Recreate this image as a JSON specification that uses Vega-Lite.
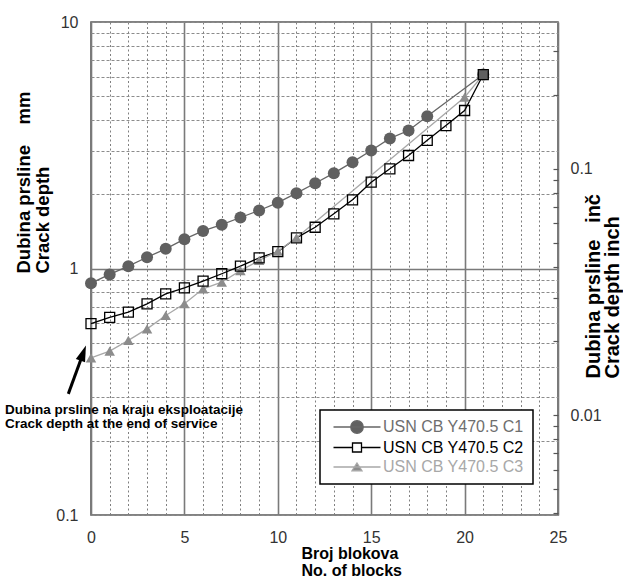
{
  "$schema": "https://vega.github.io/schema/vega-lite/v6.json",
  "width": 467,
  "height": 493,
  "autosize": {"type": "none"},
  "padding": {"left": 91, "top": 22, "right": 65, "bottom": 62},
  "background": "white",
  "config": {
    "font": "Liberation Sans",
    "view": {"stroke": "#5a5a5a", "strokeWidth": 1.6},
    "axis": {"labelFont": "Liberation Sans", "titleFont": "Liberation Sans"}
  },
  "datasets": {
    "series": [
      {"series": "USN CB Y470.5 C1", "x": 0, "mm": 0.872},
      {"series": "USN CB Y470.5 C1", "x": 1, "mm": 0.946},
      {"series": "USN CB Y470.5 C1", "x": 2, "mm": 1.022},
      {"series": "USN CB Y470.5 C1", "x": 3, "mm": 1.111},
      {"series": "USN CB Y470.5 C1", "x": 4, "mm": 1.202},
      {"series": "USN CB Y470.5 C1", "x": 5, "mm": 1.315},
      {"series": "USN CB Y470.5 C1", "x": 6, "mm": 1.42},
      {"series": "USN CB Y470.5 C1", "x": 7, "mm": 1.506},
      {"series": "USN CB Y470.5 C1", "x": 8, "mm": 1.61},
      {"series": "USN CB Y470.5 C1", "x": 9, "mm": 1.719},
      {"series": "USN CB Y470.5 C1", "x": 10, "mm": 1.85},
      {"series": "USN CB Y470.5 C1", "x": 11, "mm": 2.021},
      {"series": "USN CB Y470.5 C1", "x": 12, "mm": 2.218},
      {"series": "USN CB Y470.5 C1", "x": 13, "mm": 2.436},
      {"series": "USN CB Y470.5 C1", "x": 14, "mm": 2.7},
      {"series": "USN CB Y470.5 C1", "x": 15, "mm": 3.01},
      {"series": "USN CB Y470.5 C1", "x": 16, "mm": 3.37},
      {"series": "USN CB Y470.5 C1", "x": 17, "mm": 3.63},
      {"series": "USN CB Y470.5 C1", "x": 18, "mm": 4.15},
      {"series": "USN CB Y470.5 C1", "x": 21, "mm": 6.12},
      {"series": "USN CB Y470.5 C2", "x": 0, "mm": 0.597},
      {"series": "USN CB Y470.5 C2", "x": 1, "mm": 0.634},
      {"series": "USN CB Y470.5 C2", "x": 2, "mm": 0.665},
      {"series": "USN CB Y470.5 C2", "x": 3, "mm": 0.719},
      {"series": "USN CB Y470.5 C2", "x": 4, "mm": 0.789},
      {"series": "USN CB Y470.5 C2", "x": 5, "mm": 0.834},
      {"series": "USN CB Y470.5 C2", "x": 6, "mm": 0.888},
      {"series": "USN CB Y470.5 C2", "x": 7, "mm": 0.952},
      {"series": "USN CB Y470.5 C2", "x": 8, "mm": 1.022},
      {"series": "USN CB Y470.5 C2", "x": 9, "mm": 1.105},
      {"series": "USN CB Y470.5 C2", "x": 10, "mm": 1.17},
      {"series": "USN CB Y470.5 C2", "x": 11, "mm": 1.332},
      {"series": "USN CB Y470.5 C2", "x": 12, "mm": 1.47},
      {"series": "USN CB Y470.5 C2", "x": 13, "mm": 1.667},
      {"series": "USN CB Y470.5 C2", "x": 14, "mm": 1.9},
      {"series": "USN CB Y470.5 C2", "x": 15, "mm": 2.239},
      {"series": "USN CB Y470.5 C2", "x": 16, "mm": 2.538},
      {"series": "USN CB Y470.5 C2", "x": 17, "mm": 2.873},
      {"series": "USN CB Y470.5 C2", "x": 18, "mm": 3.31},
      {"series": "USN CB Y470.5 C2", "x": 19, "mm": 3.8},
      {"series": "USN CB Y470.5 C2", "x": 20, "mm": 4.375},
      {"series": "USN CB Y470.5 C2", "x": 21, "mm": 6.12},
      {"series": "USN CB Y470.5 C3", "x": 0, "mm": 0.434},
      {"series": "USN CB Y470.5 C3", "x": 1, "mm": 0.462},
      {"series": "USN CB Y470.5 C3", "x": 2, "mm": 0.511},
      {"series": "USN CB Y470.5 C3", "x": 3, "mm": 0.569},
      {"series": "USN CB Y470.5 C3", "x": 4, "mm": 0.645},
      {"series": "USN CB Y470.5 C3", "x": 5, "mm": 0.719},
      {"series": "USN CB Y470.5 C3", "x": 6, "mm": 0.827},
      {"series": "USN CB Y470.5 C3", "x": 7, "mm": 0.88},
      {"series": "USN CB Y470.5 C3", "x": 8, "mm": 0.98},
      {"series": "USN CB Y470.5 C3", "x": 9, "mm": 1.078},
      {"series": "USN CB Y470.5 C3", "x": 10, "mm": 1.175},
      {"series": "USN CB Y470.5 C3", "x": 11, "mm": 1.332},
      {"series": "USN CB Y470.5 C3", "x": 20, "mm": 4.95},
      {"series": "USN CB Y470.5 C3", "x": 21, "mm": 6.12}
    ],
    "note": [
      {"x": -4.6, "mm": 0.258, "label": "Dubina prsline na kraju eksploatacije\nCrack depth at the end of service"}
    ],
    "arrow": [
      {"x": -1.215, "mm": 0.31, "x2": -0.45, "mm2": 0.447}
    ]
  },
  "layer": [
    {
      "layer": [
        {
          "data": {"name": "series"},
          "mark": {"type": "line", "strokeWidth": 1.3},
          "encoding": {
            "x": {
              "field": "x", "type": "quantitative",
              "scale": {"domain": [0, 25], "nice": false, "zero": false},
              "axis": {
                "values": [0,1,2,3,4,5,6,7,8,9,10,11,12,13,14,15,16,17,18,19,20,21,22,23,24,25],
                "tickCount": 100,
                "labelExpr": "datum.value % 5 == 0 ? '' + datum.value : ''",
                "grid": true, "ticks": false, "domain": false,
                "gridDash": {"condition": {"test": "datum.value % 5 == 0", "value": []}, "value": [2, 2.5]},
                "gridColor": {"condition": {"test": "datum.value % 5 == 0", "value": "#7a7a7a"}, "value": "#808080"},
                "gridWidth": {"condition": {"test": "datum.value % 5 == 0", "value": 1.6}, "value": 1},
                "labelPadding": 14, "labelFontSize": 16, "labelColor": "#333333",
                "labelOverlap": false, "labelFlush": false,
                "title": ["Broj blokova", "No. of blocks"],
                "titleFontSize": 16, "titleFontWeight": "bold", "titleColor": "#000000",
                "titleAlign": "left", "titleBaseline": "top", "titleLineHeight": 17,
                "titleX": 210, "titleY": 30
              }
            },
            "y": {
              "field": "mm", "type": "quantitative",
              "scale": {"type": "log", "domain": [0.1, 10]},
              "axis": {
                "values": [0.1,0.2,0.3,0.4,0.5,0.6,0.7,0.8,0.9,1,2,3,4,5,6,7,8,9,10],
                "tickCount": 100,
                "labelExpr": "(datum.value == 0.1 || datum.value == 1 || datum.value == 10) ? '' + datum.value : ''",
                "grid": true, "ticks": false, "domain": false,
                "gridDash": {"condition": {"test": "datum.value == 1", "value": []}, "value": [3, 2]},
                "gridColor": {"condition": {"test": "datum.value == 1", "value": "#7a7a7a"}, "value": "#8c8c8c"},
                "gridWidth": {"condition": {"test": "datum.value == 1", "value": 1.6}, "value": 1},
                "labelPadding": 13, "labelFontSize": 16, "labelColor": "#333333",
                "labelOverlap": false, "labelFlush": false, "labelBaseline": "middle",
                "title": ["Dubina prsline\u00a0\u00a0\u00a0\u00a0mm", "Crack depth"],
                "titleFontSize": 18.5, "titleFontWeight": "bold", "titleColor": "#000000",
                "titleAngle": -90, "titleAlign": "left", "titleBaseline": "top", "titleLineHeight": 19,
                "titleX": -77, "titleY": 251
              }
            },
            "color": {
              "field": "series", "type": "nominal",
              "scale": {"domain": ["USN CB Y470.5 C1", "USN CB Y470.5 C2", "USN CB Y470.5 C3"], "range": ["#666666", "#000000", "#a8a8a8"]},
              "legend": {
                "title": null, "orient": "none", "legendX": 229, "legendY": 388,
                "padding": 9, "rowPadding": 3.5,
                "labelFontSize": 16, "labelFont": "Liberation Sans", "labelLimit": 300,
                "symbolSize": 100, "symbolStrokeWidth": 1.3, "symbolOffset": 20, "labelOffset": 18,
                "fillColor": "white", "strokeColor": "black",
                "encode": {
                  "symbols": {"update": {
                    "shape": [
                      {"test": "datum.value === 'USN CB Y470.5 C1'", "value": "M-4.7,0H4.7M-1.25,0A1.25,1.25,0,1,0,1.25,0A1.25,1.25,0,1,0,-1.25,0Z"},
                      {"test": "datum.value === 'USN CB Y470.5 C2'", "value": "M-4.7,0H-0.9M0.9,0H4.7M-0.9,-0.9H0.9V0.9H-0.9Z"},
                      {"value": "M-4.7,0H4.7M0,-0.8L1,0.75L-1,0.75Z"}
                    ],
                    "fill": [
                      {"test": "datum.value === 'USN CB Y470.5 C1'", "value": "#606060"},
                      {"test": "datum.value === 'USN CB Y470.5 C2'", "value": "white"},
                      {"value": "#8c8c8c"}
                    ],
                    "stroke": [
                      {"test": "datum.value === 'USN CB Y470.5 C1'", "value": "#606060"},
                      {"test": "datum.value === 'USN CB Y470.5 C2'", "value": "#000000"},
                      {"value": "#a8a8a8"}
                    ],
                    "strokeWidth": {"value": 1.3},
                    "opacity": {"value": 1},
                    "fillOpacity": {"value": 1}
                  }},
                  "labels": {"update": {
                    "fill": [
                      {"test": "datum.value === 'USN CB Y470.5 C1'", "value": "#6e6e6e"},
                      {"test": "datum.value === 'USN CB Y470.5 C2'", "value": "#000000"},
                      {"value": "#a8a8a8"}
                    ]
                  }},
                  "legend": {"update": {"strokeWidth": {"value": 1.5}}}
                }
              }
            }
          }
        },
        {
          "data": {"name": "series"},
          "transform": [{"filter": "datum.series === 'USN CB Y470.5 C3'"}],
          "mark": {"type": "point", "shape": "triangle-up", "size": 110, "filled": true, "color": "#8c8c8c", "opacity": 1},
          "encoding": {
            "x": {"field": "x", "type": "quantitative"},
            "y": {"field": "mm", "type": "quantitative"}
          }
        },
        {
          "data": {"name": "series"},
          "transform": [{"filter": "datum.series === 'USN CB Y470.5 C1'"}],
          "mark": {"type": "point", "shape": "circle", "size": 144, "filled": true, "color": "#606060", "opacity": 1},
          "encoding": {
            "x": {"field": "x", "type": "quantitative"},
            "y": {"field": "mm", "type": "quantitative"}
          }
        },
        {
          "data": {"name": "series"},
          "transform": [{"filter": "datum.series === 'USN CB Y470.5 C2'"}],
          "mark": {"type": "point", "shape": "square", "size": 100, "filled": false, "stroke": "#000000", "strokeWidth": 1.3, "opacity": 1},
          "encoding": {
            "x": {"field": "x", "type": "quantitative"},
            "y": {"field": "mm", "type": "quantitative"}
          }
        },
        {
          "data": {"name": "note"},
          "mark": {"type": "text", "align": "left", "baseline": "alphabetic", "fontSize": 13.5, "fontWeight": "bold", "lineBreak": "\n", "lineHeight": 14, "color": "#000000", "font": "Liberation Sans"},
          "encoding": {
            "x": {"field": "x", "type": "quantitative"},
            "y": {"field": "mm", "type": "quantitative"},
            "text": {"field": "label"}
          }
        },
        {
          "data": {"name": "arrow"},
          "mark": {"type": "rule", "strokeWidth": 3, "color": "#000000"},
          "encoding": {
            "x": {"field": "x", "type": "quantitative"},
            "y": {"field": "mm", "type": "quantitative"},
            "x2": {"field": "x2"},
            "y2": {"field": "mm2"}
          }
        },
        {
          "data": {"name": "arrow"},
          "mark": {"type": "point", "shape": "M0,-1.4L-0.7,0.9L0.7,0.9Z", "size": 196, "angle": 20, "filled": true, "color": "#000000", "opacity": 1},
          "encoding": {
            "x": {"field": "x2", "type": "quantitative"},
            "y": {"field": "mm2", "type": "quantitative"}
          }
        }
      ]
    },
    {
      "data": {"values": []},
      "mark": {"type": "rule"},
      "encoding": {
        "y": {
          "field": "inch", "type": "quantitative",
          "scale": {"type": "log", "domain": [0.003937, 0.3937]},
          "axis": {
            "orient": "right",
            "values": [0.004,0.005,0.006,0.007,0.008,0.009,0.01,0.02,0.03,0.04,0.05,0.06,0.07,0.08,0.09,0.1,0.2,0.3],
            "tickCount": 100,
            "labelExpr": "(datum.value == 0.01 || datum.value == 0.1) ? '' + datum.value : ''",
            "grid": false, "domain": false, "ticks": true, "tickSize": -5, "tickColor": "#555555", "tickWidth": 1.2,
            "labelPadding": 17, "labelFontSize": 16, "labelColor": "#333333",
            "labelOverlap": false, "labelFlush": false, "labelBaseline": "middle",
            "title": ["Dubina prsline\u00a0\u00a0\u00a0inč", "Crack depth inch"],
            "titleFontSize": 20, "titleFontWeight": "bold", "titleColor": "#000000",
            "titleAngle": -90, "titleAlign": "left", "titleBaseline": "top", "titleLineHeight": 19,
            "titleX": 25, "titleY": 356
          }
        }
      }
    }
  ],
  "resolve": {"scale": {"y": "independent"}}
}
